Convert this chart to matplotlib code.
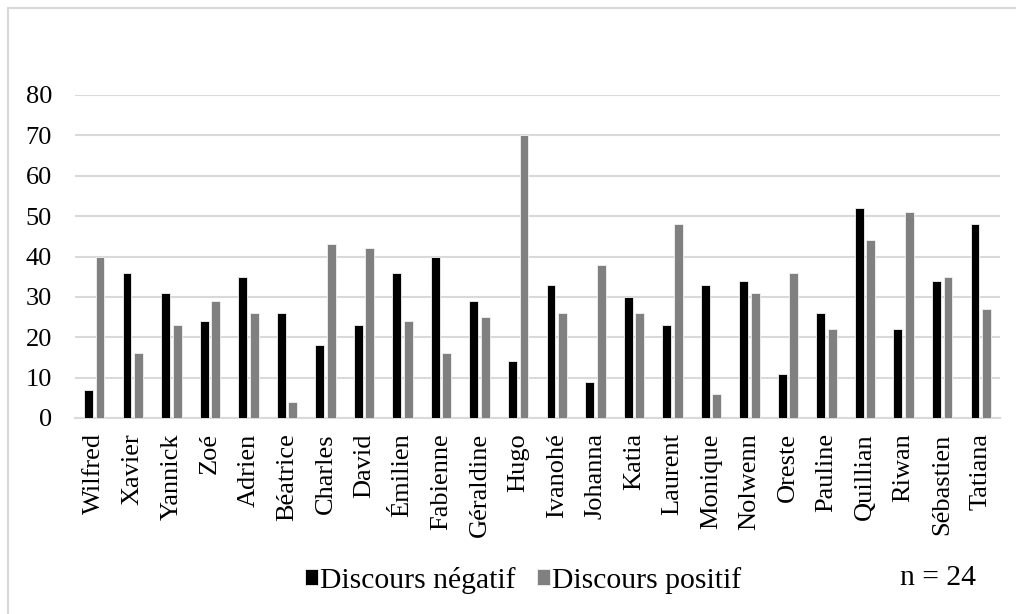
import numpy as np
import matplotlib
matplotlib.use('Agg')
import matplotlib.pyplot as plt
from matplotlib.patches import Rectangle

names = ['Wilfred', 'Xavier', 'Yannick', 'Zoé', 'Adrien', 'Béatrice', 'Charles',
         'David', 'Émilien', 'Fabienne', 'Géraldine', 'Hugo', 'Ivanohé', 'Johanna',
         'Katia', 'Laurent', 'Monique', 'Nolwenn', 'Oreste', 'Pauline', 'Quillian',
         'Riwan', 'Sébastien', 'Tatiana']
negatif = [7, 36, 31, 24, 35, 26, 18, 23, 36, 40, 29, 14, 33, 9, 30, 23, 33, 34,
           11, 26, 52, 22, 34, 48]
positif = [40, 16, 23, 29, 26, 4, 43, 42, 24, 16, 25, 70, 26, 38, 26, 48, 6, 31,
           36, 22, 44, 51, 35, 27]
yticks = [0, 10, 20, 30, 40, 50, 60, 70, 80]

plt.rcParams['font.family'] = ['Liberation Serif', 'DejaVu Serif']
tick_size = 19
legend_size = 21.3

fig = plt.figure(figsize=(10.16, 6.14), dpi=100)
ax = fig.add_axes([75/1016, 1-418/614, 925/1016, 323/614])

# outer frame of the chart area
fig.patches.append(Rectangle((8/1016, -0.1), 1.2, (1-8/614)+0.1,
                             transform=fig.transFigure, fill=False,
                             edgecolor='#d9d9d9', linewidth=1.5))

x = np.arange(len(names))
w = 0.23
ax.bar(x - 0.15, negatif, w, color='#000000', edgecolor='#f2f2f2',
       linewidth=0.6, label='Discours négatif', zorder=3)
ax.bar(x + 0.15, positif, w, color='#808080', edgecolor='#f2f2f2',
       linewidth=0.6, label='Discours positif', zorder=3)

ax.set_xlim(-0.5, len(names) - 0.5)
ax.set_ylim(0, 80)
ax.set_yticks(yticks)
ax.set_yticklabels([str(v) for v in yticks], fontsize=tick_size)
ax.set_xticks(x)
ax.set_xticklabels(names, rotation=90, fontsize=tick_size)
ax.tick_params(axis='both', length=0)
ax.tick_params(axis='y', pad=16.5)
ax.tick_params(axis='x', pad=11)
ax.yaxis.grid(True, color='#d9d9d9', linewidth=1.5, zorder=0)
ax.set_axisbelow(True)
for s in ['top', 'right', 'left']:
    ax.spines[s].set_visible(False)
ax.spines['bottom'].set_color('#d9d9d9')
ax.spines['bottom'].set_linewidth(1.5)

fig.legend(loc='center', bbox_to_anchor=(523/1016, 1-580/614), ncol=2,
           frameon=False, fontsize=legend_size, handlelength=0.45,
           handleheight=0.45, handletextpad=0.08, columnspacing=0.7)
fig.text(938/1016, 1-578/614, 'n = 24', fontsize=legend_size,
         ha='center', va='center')

fig.savefig('out.png', dpi=100)
